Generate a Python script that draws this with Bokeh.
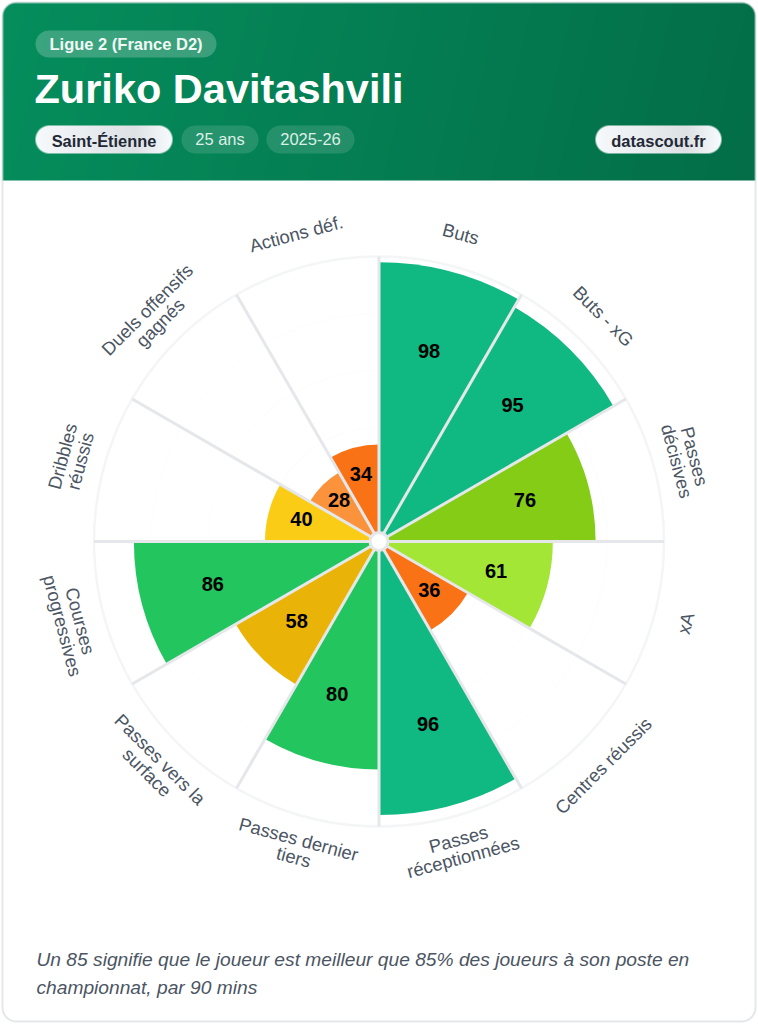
import numpy as np
from bokeh.core.properties import value
from bokeh.plotting import figure
from bokeh.models import Range1d
from bokeh.embed import file_html
from bokeh.resources import INLINE

metrics = ["Buts", "Buts - xG", "Passes\ndécisives", "xA", "Centres réussis",
           "Passes\nréceptionnées", "Passes dernier\ntiers", "Passes vers la\nsurface",
           "Courses\nprogressives", "Dribbles\nréussis", "Duels offensifs\ngagnés", "Actions déf."]
percentiles = [98, 95, 76, 61, 36, 96, 80, 58, 86, 40, 28, 34]
bar_colors = ["#10b981", "#10b981", "#84cc16", "#a3e635", "#f97316", "#10b981",
              "#22c55e", "#eab308", "#22c55e", "#facc15", "#fb923c", "#f97316"]
league = "Ligue 2 (France D2)"
player = "Zuriko Davitashvili"
club = "Saint-Étienne"
age = "25 ans"
season = "2025-26"
site = "datascout.fr"
note = ["Un 85 signifie que le joueur est meilleur que 85% des joueurs à son poste en",
        "championnat, par 90 mins"]

W, H = 758, 1024
FONT = value("Liberation Sans")
CX, CY, SCALE = 378.5, H - 541, 2.85
LABEL_R = 318


def Y(py):
    return H - py


def pill(x0, x1, y0, y1, r=None):
    top, bot = Y(y0), Y(y1)
    r = (y1 - y0) / 2 if r is None else r
    t = np.linspace(0, np.pi / 2, 12)
    xs = np.r_[x1 - r + r * np.cos(t), x0 + r - r * np.sin(t), x0 + r - r * np.cos(t), x1 - r + r * np.sin(t)]
    ys = np.r_[top - r + r * np.sin(t), top - r + r * np.cos(t), bot + r - r * np.sin(t), bot + r - r * np.cos(t)]
    return xs, ys


p = figure(width=W, height=H, output_backend="svg", toolbar_location=None,
           x_range=Range1d(0, W), y_range=Range1d(0, H), min_border=0,
           outline_line_color=None, background_fill_color="white", border_fill_color="white")
p.axis.visible = False
p.grid.visible = False

# Card outline
xs, ys = pill(2, 755, 2, 1021, 14)
p.patch(xs, ys, fill_color="white", line_color="#e5e7eb", line_width=2)

# Header gradient, diagonal, with rounded top corners
hx0, hy0, nx, ny = 2, 2, 753, 178
gx, gy = np.meshgrid(np.arange(nx), np.arange(ny))
g = (gx * nx + (ny - gy) * ny) / (nx * nx + ny * ny)
c0, c1 = np.array([6, 142, 93]), np.array([3, 110, 72])
img = np.zeros((ny, nx, 4), dtype=np.uint8)
for k in range(3):
    img[:, :, k] = (c0[k] + (c1[k] - c0[k]) * g).astype(np.uint8)
rad = 13
dxc = np.maximum(np.maximum(rad - gx, gx - (nx - 1 - rad)), 0)
dyc = np.maximum(gy - (ny - 1 - rad), 0)
img[:, :, 3] = np.clip((rad + .5 - np.hypot(dxc, dyc)) * 255, 0, 255).astype(np.uint8)
p.image_rgba(image=[img.view(np.uint32).reshape(ny, nx)], x=hx0, y=Y(180), dw=nx, dh=ny)

for x0, x1, y0, y1, a in [(35, 216, 30, 57, .22), (181, 258, 125, 153, .13), (266, 354, 125, 153, .13)]:
    xs, ys = pill(x0, x1, y0, y1)
    p.patch(xs, ys, fill_color="white", fill_alpha=a, line_color=None)


def glossy_pill(x0, x1, y0, y1):
    w, h = x1 - x0, y1 - y0
    u = (np.arange(w) + .5) / w
    shade = np.where(u < .72, 247 - 24 * u / .72, 223 + 26 * (u - .72) / .28)
    a = np.zeros((h, w, 4), dtype=np.uint8)
    a[:, :, 0] = shade.astype(np.uint8)
    a[:, :, 1] = (shade + 3).clip(0, 255).astype(np.uint8)
    a[:, :, 2] = (shade + 5).clip(0, 255).astype(np.uint8)
    px, py = np.meshgrid(np.arange(w) + .5, np.arange(h) + .5)
    r = h / 2
    d = np.hypot(np.maximum(np.maximum(r - px, px - (w - r)), 0), py - r)
    a[:, :, 3] = np.clip((r - d + .5) * 255, 0, 255).astype(np.uint8)
    p.image_rgba(image=[a.view(np.uint32).reshape(h, w)], x=x0, y=Y(y1), dw=w, dh=h)


glossy_pill(35, 172, 125, 153)
glossy_pill(595, 721, 125, 153)


def txt(x, py, s, size, color, style="normal", align="left", angle=0):
    p.text([x], [Y(py)], text=[s], text_font=FONT, text_font_size=f"{size}px", text_color=color,
           text_font_style=style, text_align=align, text_baseline="middle", angle=angle,
           angle_units="deg", text_line_height=1.15)


txt(49, 43, league, 16.5, "#f2f8f5", "bold")
txt(34, 88, player, 41.5, "white", "bold")
txt(103.5, 140.5, club, 16.4, "#1f2937", "bold", "center")
txt(219.5, 138.5, age, 16.5, "#dcefe7", "normal", "center")
txt(310, 138.5, season, 16.5, "#dcefe7", "normal", "center")
txt(658, 140.5, site, 16.5, "#1f2937", "bold", "center")
txt(36, 958.5, note[0], 19.2, "#4b5563", "italic")
txt(36, 986.5, note[1], 19.2, "#4b5563", "italic")

# Polar chart
n = len(percentiles)
starts = [90 - 30 * (i + 1) for i in range(n)]
ends = [90 - 30 * i for i in range(n)]
mids = [90 - 30 * i - 15 for i in range(n)]
for ring in [20, 40, 60, 80]:
    p.circle([CX], [CY], radius=ring * SCALE, fill_color=None, line_color="#fdfdfd", line_width=1)
p.circle([CX], [CY], radius=100 * SCALE, fill_color=None, line_color="#f4f5f6", line_width=2.5)
p.wedge(x=[CX] * n, y=[CY] * n, radius=[v * SCALE for v in percentiles], start_angle=starts, end_angle=ends,
        start_angle_units="deg", end_angle_units="deg", fill_color=bar_colors, line_color=None)
for a in ends:
    r = np.deg2rad(a)
    p.line([CX, CX + 100 * SCALE * np.cos(r)], [CY, CY + 100 * SCALE * np.sin(r)], line_color="#e5e7eb", line_width=3)
p.circle([CX], [CY], radius=9, fill_color="white", line_color="#e5e7eb", line_width=3)

for v, m, lab in zip(percentiles, mids, metrics):
    r = np.deg2rad(m)
    rv = v * SCALE * 0.7
    p.text([CX - .5 + rv * np.cos(r)], [CY + 2 + rv * np.sin(r)], text=[str(v)], text_font=FONT, text_font_size="20px",
           text_font_style="bold", text_color="black", text_align="center", text_baseline="middle")
    ang = m - 90 if m > -30 else m + 90
    if ang < -90:
        ang += 180
    p.text([CX - .5 + LABEL_R * np.cos(r)], [CY + .5 + LABEL_R * np.sin(r)], text=[lab], text_font=FONT,
           text_font_size="18.4px", text_color="#4b5563", text_align="center", text_baseline="middle",
           angle=ang, angle_units="deg", text_line_height=0.88)

open("out.html", "w").write(file_html(p, INLINE))
